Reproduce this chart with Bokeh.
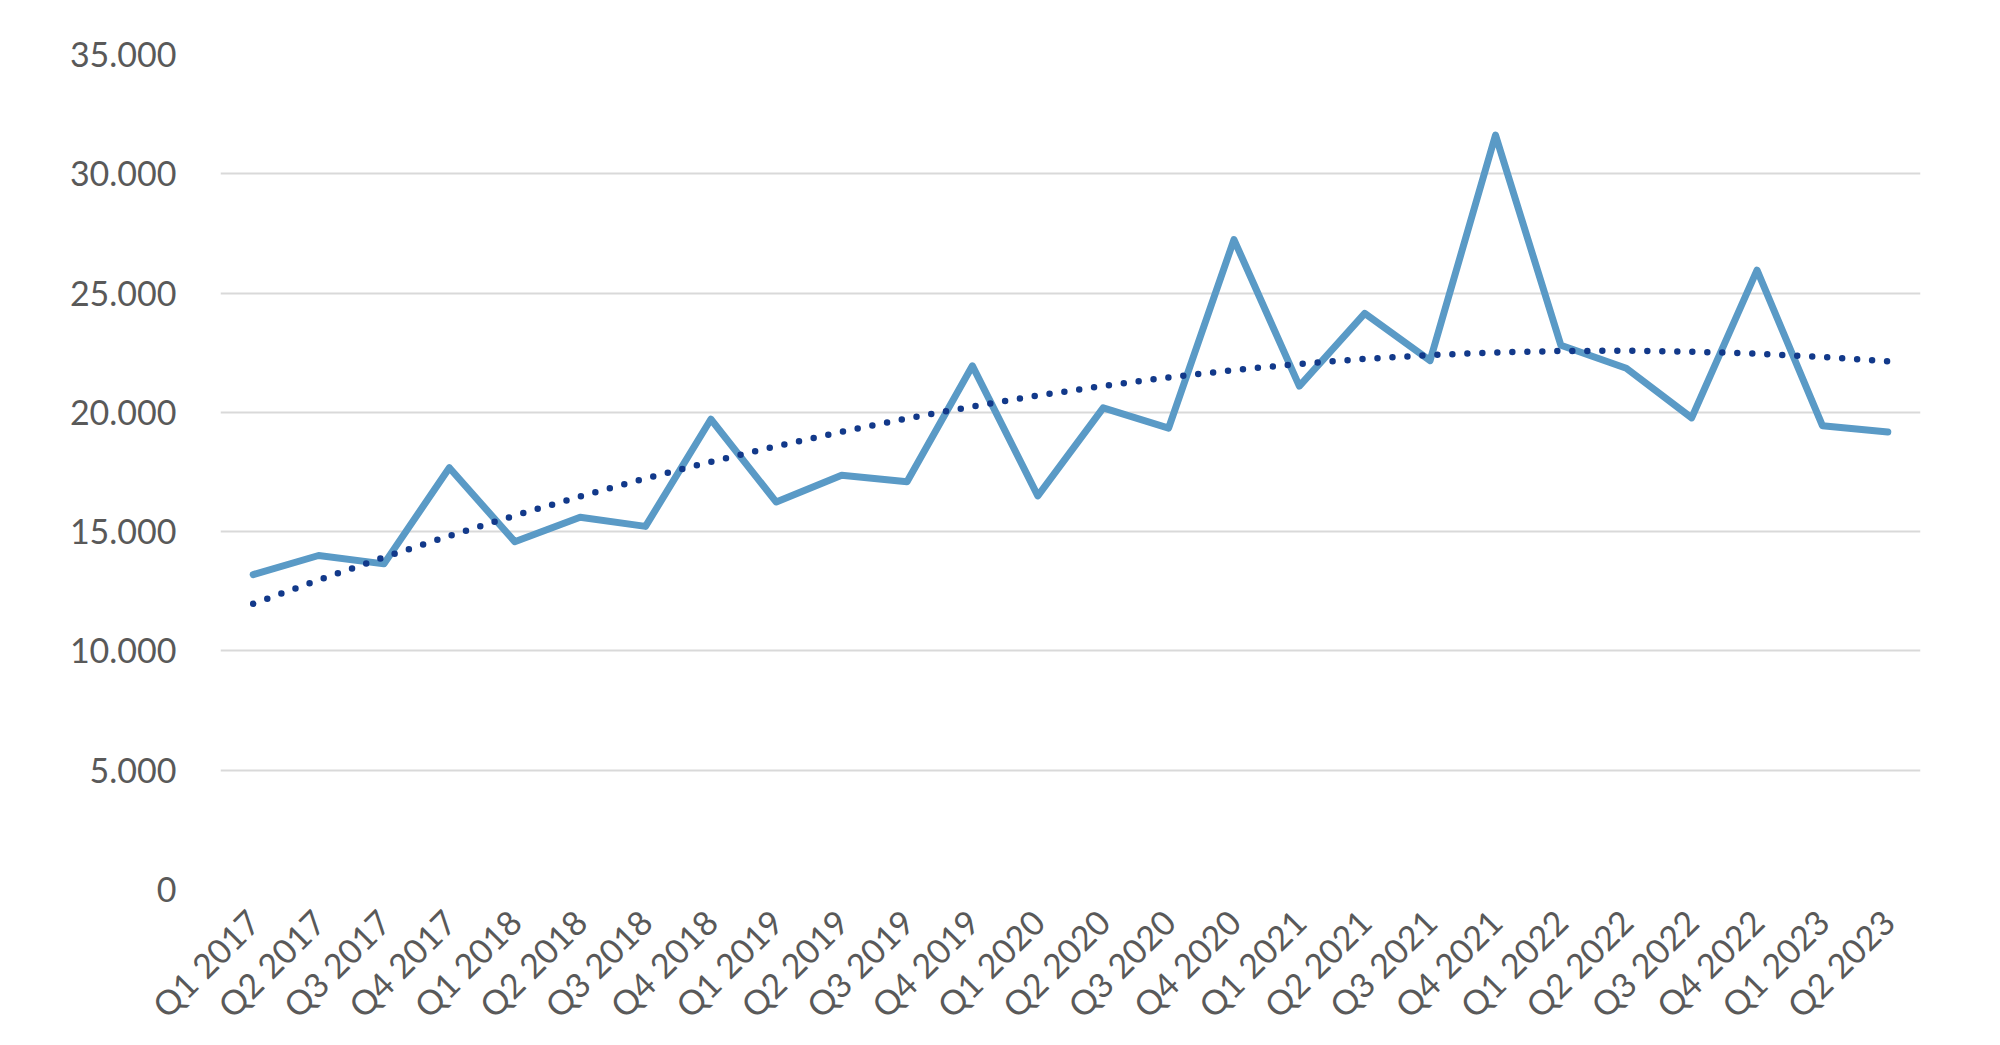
import numpy as np
from math import pi
from bokeh.plotting import figure
from bokeh.models import ColumnDataSource, CustomJSTickFormatter, FixedTicker
from bokeh.embed import file_html
from bokeh.resources import INLINE

quarters = ["Q1 2017", "Q2 2017", "Q3 2017", "Q4 2017",
            "Q1 2018", "Q2 2018", "Q3 2018", "Q4 2018",
            "Q1 2019", "Q2 2019", "Q3 2019", "Q4 2019",
            "Q1 2020", "Q2 2020", "Q3 2020", "Q4 2020",
            "Q1 2021", "Q2 2021", "Q3 2021", "Q4 2021",
            "Q1 2022", "Q2 2022", "Q3 2022", "Q4 2022",
            "Q1 2023", "Q2 2023"]
values = [13200, 14000, 13650, 17680,
          14580, 15600, 15220, 19710,
          16240, 17360, 17090, 21950,
          16500, 20190, 19340, 27240,
          21100, 24150, 22170, 31620,
          22810, 21850, 19770, 25960,
          19440, 19180]
y_ticks = [0, 5000, 10000, 15000, 20000, 25000, 30000, 35000]

# polynomial (order 2) trendline, as Excel computes it from the series
idx = np.arange(1, len(values) + 1)
coef = np.polyfit(idx, values, 2)
trend = list(np.polyval(coef, idx))

src = ColumnDataSource(dict(q=quarters, v=values, t=trend))

FONT = "Lato"
TXT = "#595959"

p = figure(x_range=quarters, y_range=(0, 35000),
           frame_width=1700, frame_height=835,
           min_border_left=220, min_border_right=60,
           min_border_top=54, min_border_bottom=135,
           output_backend="svg", toolbar_location=None,
           background_fill_color="white", border_fill_color="white")
p.outline_line_color = None

p.line("q", "v", source=src, line_color="#5A9AC6", line_width=7,
       line_join="round", line_cap="round")
p.line("q", "t", source=src, line_color="#12398A", line_width=6.5,
       line_dash="0 15", line_cap="round")

p.xgrid.grid_line_color = None
p.ygrid.grid_line_color = "#D9D9D9"
p.ygrid.grid_line_width = 2

p.yaxis.ticker = FixedTicker(ticks=y_ticks)
p.yaxis.formatter = CustomJSTickFormatter(code="""
    return tick.toFixed(0).replace(/\\B(?=(\\d{3})+(?!\\d))/g, '.');
""")
for ax in (p.xaxis, p.yaxis):
    ax.axis_line_color = None
    ax.major_tick_line_color = None
    ax.minor_tick_line_color = None
    ax.major_tick_out = 0
    ax.major_tick_in = 0
    ax.major_label_text_font = FONT
    ax.major_label_text_font_size = "34px"
    ax.major_label_text_color = TXT
p.yaxis.major_label_standoff = 44
p.xaxis.major_label_orientation = pi / 4
p.xaxis.major_label_standoff = 26

open("out.html", "w").write(file_html(p, INLINE))
